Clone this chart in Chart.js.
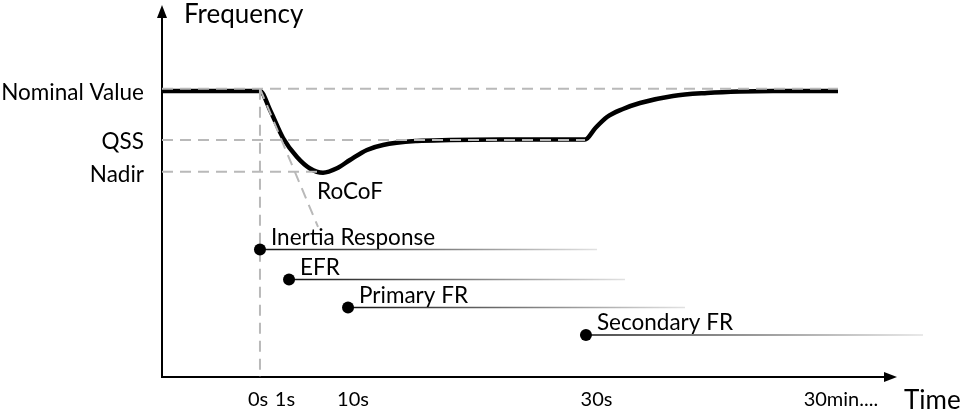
<!DOCTYPE html>
<html>
<head>
<meta charset="utf-8">
<script src="https://cdn.jsdelivr.net/npm/chart.js@4.4.1/dist/chart.umd.min.js"></script>
<style>
  html, body { margin: 0; padding: 0; background: #fff; }
  #wrap { width: 968px; height: 414px; position: relative; }
</style>
</head>
<body>
<div id="wrap"><canvas id="c"></canvas></div>
<script>
// ---- Data (schematic units) ----
const freqTime  = [0, 13.55, 14.94, 16.74, 18.67, 20.47, 22.27, 24.20, 26.00, 28.35, 30.57, 35.27, 39.83, 46.75, 58.51, 59.89, 61.55, 63.76, 66.11, 70.68, 75.38, 79.94, 84.51, 93.50];
const freqValue = [79.44, 79.44, 74.17, 66.39, 61.11, 57.92, 56.75, 57.97, 60.28, 63.06, 64.44, 65.56, 65.83, 65.97, 65.97, 69.03, 72.22, 74.44, 76.11, 78.06, 78.89, 79.31, 79.44, 79.44];

const levelTicks  = [79.44, 65.97, 56.75];
const levelLabels = ['Nominal Value', 'QSS', 'Nadir'];

const nominalRef = 80.1;
const qssRef     = 65.83;
const nadirRef   = 57.03;
const nominalRefEnd = 93.5;
const qssRefEnd     = 58.51;
const nadirRefEnd   = 22.27;
const eventTime  = 13.55;
const rocofEndTime  = 21.58;
const rocofEndValue = 41.67;

const timeTicks  = [13.28, 17.01, 26.42, 60.1, 93.9];
const timeLabels = ['0s', '1s', '10s', '30s', '30min....'];

const responseNames = ['Inertia Response', 'EFR', 'Primary FR', 'Secondary FR'];
const responseStart = [13.55, 17.57, 25.73, 58.64];
const responseEnd   = [60.17, 64.04, 72.34, 105.26];
const responseLevel = [35.42, 27.08, 19.31, 11.67];

// ---- Build datasets ----
const dashStyle = { borderColor: '#b9b9b9', borderWidth: 2, borderDash: [11, 7], pointRadius: 0, fill: false, order: 1, clip: false };

const datasets = [];
datasets.push({
  label: 'Frequency',
  data: freqTime.map((t, i) => ({ x: t, y: freqValue[i] })),
  borderColor: '#000', borderWidth: 4.5, pointRadius: 0,
  cubicInterpolationMode: 'monotone', fill: false, order: 3
});
datasets.push(Object.assign({ label: 'nominal', data: [{x: 0, y: nominalRef}, {x: nominalRefEnd, y: nominalRef}] }, dashStyle));
datasets.push(Object.assign({ label: 'qss', data: [{x: 0, y: qssRef}, {x: qssRefEnd, y: qssRef}] }, dashStyle));
datasets.push(Object.assign({ label: 'nadir', data: [{x: 0, y: nadirRef}, {x: nadirRefEnd, y: nadirRef}] }, dashStyle));
datasets.push(Object.assign({ label: 'event', data: [{x: eventTime, y: nominalRef}, {x: eventTime, y: 0}] }, dashStyle));
datasets.push(Object.assign({ label: 'rocof', data: [{x: eventTime, y: nominalRef}, {x: rocofEndTime, y: rocofEndValue}] }, dashStyle));

function fadeColor(ctx) {
  const chart = ctx.chart;
  if (!chart.chartArea) return '#333';
  const xs = chart.scales.x;
  const d = ctx.dataset.data;
  const x0 = xs.getPixelForValue(d[0].x), x1 = xs.getPixelForValue(d[1].x);
  const g = chart.ctx.createLinearGradient(x0, 0, x1, 0);
  g.addColorStop(0, '#111');
  g.addColorStop(0.5, '#777');
  g.addColorStop(1, '#e2e2e2');
  return g;
}

responseNames.forEach((name, i) => {
  datasets.push({
    label: name,
    data: [{x: responseStart[i], y: responseLevel[i]}, {x: responseEnd[i], y: responseLevel[i]}],
    borderColor: fadeColor, borderWidth: 1.6,
    pointRadius: [6, 0], pointBackgroundColor: '#000', pointBorderColor: '#000', pointBorderWidth: 0,
    fill: false, order: 0, clip: false
  });
});

// ---- Annotation plugin: arrows and free text ----
const annot = {
  id: 'annot',
  afterDraw(chart) {
    const { ctx, chartArea: a, scales: { x, y } } = chart;
    ctx.save();
    ctx.fillStyle = '#000';
    // y arrow
    ctx.beginPath();
    ctx.moveTo(a.left, a.top - 12);
    ctx.lineTo(a.left - 5, a.top + 1);
    ctx.lineTo(a.left + 5, a.top + 1);
    ctx.closePath(); ctx.fill();
    // x arrow
    ctx.beginPath();
    ctx.moveTo(a.right + 12, a.bottom);
    ctx.lineTo(a.right - 1, a.bottom - 5);
    ctx.lineTo(a.right - 1, a.bottom + 5);
    ctx.closePath(); ctx.fill();

    ctx.textAlign = 'left';
    ctx.textBaseline = 'middle';
    ctx.font = '26px Lato';
    ctx.fillText('Frequency', a.left + 22, a.top - 2);
    ctx.fillText('Time', a.right + 19, a.bottom + 24);

    ctx.font = '22.5px Lato';
    responseNames.forEach((name, i) => {
      const px = x.getPixelForValue(responseStart[i]);
      const py = y.getPixelForValue(responseLevel[i]);
      ctx.fillText(name, px + 11, py - 12);
    });
    // RoCoF label near the end of the tangent line
    const rx = x.getPixelForValue(rocofEndTime);
    const ry = y.getPixelForValue(rocofEndValue);
    ctx.fillText('RoCoF', rx - 1, ry - 35);
    ctx.restore();
  }
};

Chart.defaults.font.family = 'Lato';
Chart.defaults.color = '#000';

function noPad(s) { s.paddingTop = 0; s.paddingBottom = 0; s.paddingLeft = 0; s.paddingRight = 0; }

new Chart(document.getElementById('c'), {
  type: 'line',
  data: { datasets },
  options: {
    responsive: true,
    maintainAspectRatio: false,
    animation: false,
    events: [],
    layout: { padding: { left: 0, top: 17, right: 83, bottom: 0 } },
    plugins: { legend: { display: false }, tooltip: { enabled: false } },
    scales: {
      x: {
        type: 'linear', min: 0, max: 100,
        grid: { display: false, drawTicks: false },
        border: { display: true, color: '#000', width: 2 },
        afterBuildTicks: (s) => { s.ticks = timeTicks.map(v => ({ value: v })); },
        afterFit: (s) => { s.height = 37; noPad(s); },
        ticks: {
          autoSkip: false, maxRotation: 0, padding: 11,
          font: { size: 20 }, color: '#000',
          callback: (v, i) => timeLabels[i]
        }
      },
      y: {
        type: 'linear', min: 0, max: 100,
        grid: { display: false, drawTicks: false },
        border: { display: true, color: '#000', width: 2 },
        afterBuildTicks: (s) => { s.ticks = levelTicks.map(v => ({ value: v })); },
        afterFit: (s) => { s.width = 162; noPad(s); },
        ticks: {
          autoSkip: false, padding: 18, labelOffset: 2,
          font: { size: 22.5 }, color: '#000',
          callback: (v, i) => levelLabels[i]
        }
      }
    }
  },
  plugins: [annot]
});
</script>
</body>
</html>
